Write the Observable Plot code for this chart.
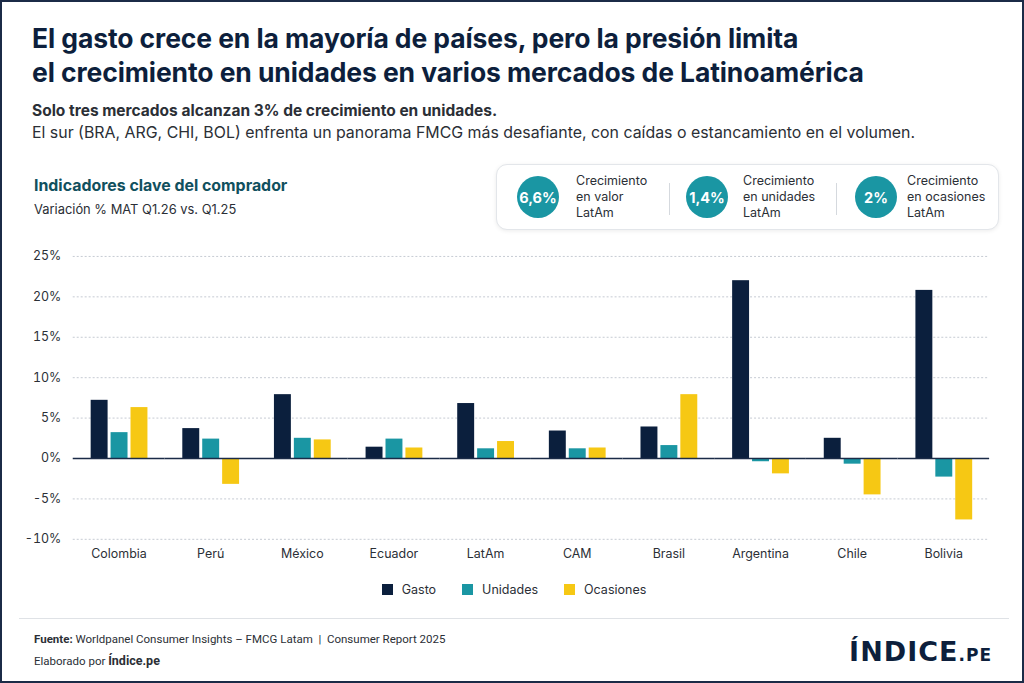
<!DOCTYPE html>
<html>
<head>
<meta charset="utf-8">
<script src="https://cdn.jsdelivr.net/npm/d3@7"></script>
<script src="https://cdn.jsdelivr.net/npm/@observablehq/plot@0.6"></script>
<style>
  html, body { margin:0; padding:0; background:#fff; }
  #page { position:relative; width:1024px; height:683px; box-sizing:border-box; border:2px solid #1b2b47; overflow:hidden; font-family: Inter, "Noto Sans", sans-serif; color:#2b2f36; }
  .abs { position:absolute; }
  #title { left:30px; top:19px; font-family: Inter, sans-serif; font-weight:700; font-size:26.5px; line-height:34px; color:#0d1f3c; letter-spacing:-0.1px; white-space:nowrap; }
  #sub1 { left:30px; top:99px; font-weight:700; font-size:15.5px; color:#2b2f36; }
  #sub2 { left:30px; top:121px; font-size:15.9px; color:#2b2f36; white-space:nowrap; }
  #sec { left:32px; top:174px; font-weight:700; font-size:15.9px; color:#11505e; }
  #secsub { left:32px; top:200px; font-size:12.9px; color:#2b2f36; }
  #kpi { left:494px; top:162px; width:503px; height:66px; box-sizing:border-box; border:1px solid #e3e6ea; border-radius:11px; box-shadow:0 1px 4px rgba(0,0,0,0.08); background:#fff; }
  .kc { position:absolute; width:42px; height:42px; border-radius:50%; background:#1a96a3; color:#fff; font-weight:700; font-size:14.5px; display:flex; align-items:center; justify-content:center; top:11px; }
  .kt { position:absolute; top:8px; font-size:12.5px; line-height:16px; color:#2b2f36; }
  .ks { position:absolute; top:18px; width:1px; height:32px; background:#d5d9de; }
  #chart { left:0; top:240px; }
  #legend { left:0; width:1024px; top:580px; display:flex; justify-content:center; gap:26px; font-size:12.5px; color:#2b2f36; }
  .li { display:flex; align-items:center; gap:9px; }
  .sw { width:11px; height:11px; display:inline-block; }
  #rule { left:17px; top:616px; width:990px; height:1px; background:#dfe2e6; }
  #src { left:32px; top:630px; font-family: Roboto, sans-serif; font-size:11.5px; color:#2b2f36; }
  #by { left:32px; top:651px; font-family: Roboto, sans-serif; font-size:11.5px; color:#2b2f36; }
  #logo { right:30px; top:634px; font-family: "DejaVu Sans", Inter, sans-serif; font-weight:700; font-size:27px; color:#0d1f3c; letter-spacing:1px; }
  #logo small { font-size:17px; letter-spacing:1px; }
</style>
</head>
<body>
<div id="page">
  <div id="title" class="abs">El gasto crece en la mayoría de países, pero la presión limita<br>el crecimiento en unidades en varios mercados de Latinoamérica</div>
  <div id="sub1" class="abs">Solo tres mercados alcanzan 3% de crecimiento en unidades.</div>
  <div id="sub2" class="abs">El sur (BRA, ARG, CHI, BOL) enfrenta un panorama FMCG más desafiante, con caídas o estancamiento en el volumen.</div>
  <div id="sec" class="abs">Indicadores clave del comprador</div>
  <div id="secsub" class="abs">Variación % MAT Q1.26 vs. Q1.25</div>
  <div id="kpi" class="abs"></div>
  <div id="chart" class="abs"></div>
  <div id="legend" class="abs"></div>
  <div id="rule" class="abs"></div>
  <div id="src" class="abs"><b>Fuente:</b> Worldpanel Consumer Insights – FMCG Latam &nbsp;|&nbsp; Consumer Report 2025</div>
  <div id="by" class="abs">Elaborado por <b style="font-size:12.5px">Índice.pe</b></div>
  <div id="logo" class="abs">ÍNDICE<small>.PE</small></div>
</div>
<script>
const countries = ["Colombia","Perú","México","Ecuador","LatAm","CAM","Brasil","Argentina","Chile","Bolivia"];
const series = ["Gasto","Unidades","Ocasiones"];
const colors = ["#0b1f3d","#1a96a3","#f6c814"];
const gasto     = [7.2, 3.7, 7.9, 1.4, 6.8, 3.4, 3.9, 22.0, 2.5, 20.8];
const unidades  = [3.2, 2.4, 2.5, 2.4, 1.2, 1.2, 1.6, -0.4, -0.7, -2.3];
const ocasiones = [6.3, -3.2, 2.3, 1.3, 2.1, 1.3, 7.9, -1.9, -4.5, -7.6];
const yTicks = [-10, -5, 0, 5, 10, 15, 20, 25];
const kpiValues = ["6,6%", "1,4%", "2%"];
const kpiLabels = ["Crecimiento<br>en valor<br>LatAm", "Crecimiento<br>en unidades<br>LatAm", "Crecimiento<br>en ocasiones<br>LatAm"];

const seriesValues = [gasto, unidades, ocasiones];
const data = [];
countries.forEach((c, i) => series.forEach((s, j) => data.push({country: c, series: s, value: seriesValues[j][i]})));

const chart = Plot.plot({
  width: 1024,
  height: 330,
  marginTop: 14,
  marginBottom: 32,
  marginLeft: 70,
  marginRight: 32,
  style: {fontFamily: "Inter, 'Noto Sans', sans-serif", fontSize: "12.5px", color: "#2b2f36", background: "transparent"},
  fx: {domain: countries, padding: 0, label: null, axis: "bottom", tickSize: 0, tickPadding: 10},
  x: {domain: series, axis: null, paddingInner: 0.163, paddingOuter: 0.852},
  y: {domain: [-10, 25], ticks: yTicks, tickFormat: d => d + "%", label: null, tickSize: 0, tickPadding: 12},
  color: {domain: series, range: colors},
  marks: [
    Plot.gridY(yTicks.filter(d => d !== 0), {stroke: "#c6cbd3", strokeOpacity: 1, strokeDasharray: "2,2"}),
    Plot.barY(data, {fx: "country", x: "series", y: "value", fill: "series"}),
    Plot.ruleY([0], {stroke: "#1b2b47", strokeWidth: 1.5})
  ]
});
document.getElementById("chart").appendChild(chart);

// legend
const lg = document.getElementById("legend");
series.forEach((s, i) => {
  const it = document.createElement("div");
  it.className = "li";
  it.innerHTML = `<span class="sw" style="background:${colors[i]}"></span><span>${s}</span>`;
  lg.appendChild(it);
});

// KPI box
const kpi = document.getElementById("kpi");
const circleLeft = [20, 189, 358];
const textLeft = [79, 246, 410];
const sepLeft = [172, 339];
kpiValues.forEach((v, i) => {
  const c = document.createElement("div");
  c.className = "kc"; c.style.left = circleLeft[i] + "px"; c.textContent = v;
  kpi.appendChild(c);
  const t = document.createElement("div");
  t.className = "kt"; t.style.left = textLeft[i] + "px"; t.innerHTML = kpiLabels[i];
  kpi.appendChild(t);
});
sepLeft.forEach(x => { const s = document.createElement("div"); s.className = "ks"; s.style.left = x + "px"; kpi.appendChild(s); });
</script>
</body>
</html>
